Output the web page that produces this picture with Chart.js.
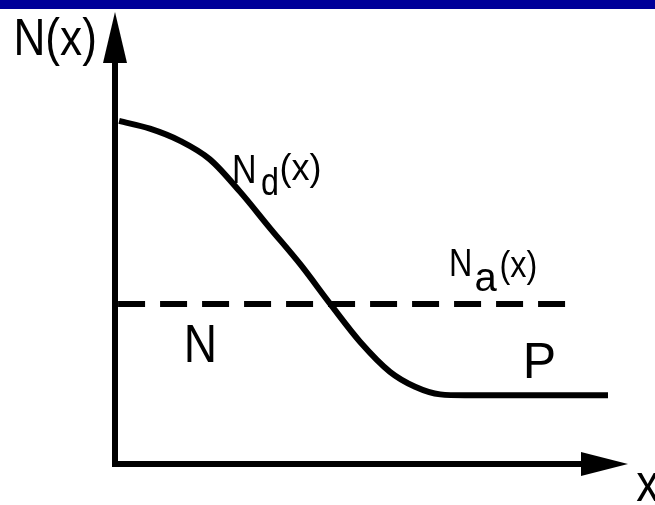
<!DOCTYPE html>
<html>
<head>
<meta charset="utf-8">
<script src="https://cdn.jsdelivr.net/npm/chart.js@4.4.1/dist/chart.umd.min.js"></script>
<style>
  html, body { margin: 0; padding: 0; background: #fff; }
  #wrap { position: relative; width: 655px; height: 505px; }
  #bar { position: absolute; left: 0; top: 0; width: 655px; height: 9px; background: #000099; }
</style>
</head>
<body>
<div id="wrap">
  <canvas id="c" width="655" height="505"></canvas>
  <div id="bar"></div>
</div>
<script>
// donor profile Nd(x)
const ndX = [0.8, 6.8, 12.7, 18.5, 24.4, 30.2, 36.1, 42.1, 47.8, 53.6, 58.5, 63.4, 68.2, 96.1];
const ndY = [75.9, 74.2, 71.5, 67.4, 60.2, 52.2, 44.2, 35.2, 27.0, 20.4, 17.1, 15.4, 15.2, 15.2];

// acceptor level Na(x), flat
const naX = [0.6, 88.1];
const naY = [35.4, 35.4];

const xMax = 100;
const yMax = 100;

// text labels, anchored in data units; parts are offset in px
const labels = [
  { x: -19.8, y: 90.5, parts: [{ t: "N(x)", size: 52, sx: 0.85, dx: 0, dy: 0 }] },
  { x: 13.4, y: 22.6, parts: [{ t: "N", size: 53, sx: 0.87, dx: 0, dy: 0 }] },
  { x: 79.5, y: 19.0, parts: [{ t: "P", size: 50, sx: 1, dx: 0, dy: 0 }] },
  { x: 101.6, y: -8.2, parts: [{ t: "x", size: 54, sx: 0.85, dx: 0, dy: 0 }] },
  { x: 22.8, y: 62.2, parts: [
    { t: "N", size: 40, sx: 0.85, dx: 0, dy: 0 },
    { t: "d", size: 38, sx: 0.85, dx: 29, dy: 12 },
    { t: "(x)", size: 36, sx: 1, dx: 47.5, dy: -3 }
  ] },
  { x: 65.1, y: 41.6, parts: [
    { t: "N", size: 38, sx: 0.85, dx: 0, dy: 0 },
    { t: "a", size: 40, sx: 1, dx: 25.5, dy: 15 },
    { t: "(x)", size: 36, sx: 0.9, dx: 50.5, dy: 1 }
  ] }
];

const axesPlugin = {
  id: "axes",
  afterDatasetsDraw(chart) {
    const { ctx, scales: { x, y } } = chart;
    const x0 = x.getPixelForValue(0);
    const y0 = y.getPixelForValue(0);
    const xEnd = x.getPixelForValue(xMax);
    const yEnd = y.getPixelForValue(yMax);
    ctx.save();
    ctx.strokeStyle = "#000";
    ctx.fillStyle = "#000";
    ctx.lineWidth = 6;
    ctx.beginPath();
    ctx.moveTo(x0, y0 + 3);
    ctx.lineTo(x0, yEnd + 40);
    ctx.moveTo(x0 - 3, y0);
    ctx.lineTo(xEnd - 40, y0);
    ctx.stroke();
    // arrow heads
    ctx.beginPath();
    ctx.moveTo(x0, yEnd);
    ctx.lineTo(x0 - 12, yEnd + 51);
    ctx.lineTo(x0 + 12, yEnd + 51);
    ctx.closePath();
    ctx.fill();
    ctx.beginPath();
    ctx.moveTo(xEnd, y0);
    ctx.lineTo(xEnd - 47, y0 - 12);
    ctx.lineTo(xEnd - 47, y0 + 12);
    ctx.closePath();
    ctx.fill();
    ctx.restore();
  },
  afterDraw(chart) {
    const { ctx, scales: { x, y } } = chart;
    ctx.save();
    ctx.fillStyle = "#000";
    ctx.textBaseline = "alphabetic";
    ctx.textAlign = "left";
    labels.forEach((l) => {
      const px = x.getPixelForValue(l.x);
      const py = y.getPixelForValue(l.y);
      l.parts.forEach((p) => {
        ctx.save();
        ctx.translate(px + p.dx, py + p.dy);
        ctx.scale(p.sx, 1);
        ctx.font = p.size + 'px "Liberation Sans", Arial, sans-serif';
        ctx.fillText(p.t, 0, 0);
        ctx.restore();
      });
    });
    ctx.restore();
  }
};

new Chart(document.getElementById("c").getContext("2d"), {
  type: "line",
  data: {
    datasets: [
      {
        label: "Nd(x)",
        data: ndX.map((v, i) => ({ x: v, y: ndY[i] })),
        borderColor: "#000",
        borderWidth: 6,
        borderCapStyle: "butt",
        pointRadius: 0,
        cubicInterpolationMode: "monotone",
        fill: false
      },
      {
        label: "Na(x)",
        data: naX.map((v, i) => ({ x: v, y: naY[i] })),
        borderColor: "#000",
        borderWidth: 6,
        borderDash: [27, 15],
        borderCapStyle: "butt",
        pointRadius: 0,
        fill: false
      }
    ]
  },
  options: {
    responsive: false,
    animation: false,
    devicePixelRatio: 1,
    layout: { padding: { left: 115, right: 27, top: 12, bottom: 41 } },
    scales: {
      x: { type: "linear", min: 0, max: xMax, display: false },
      y: { type: "linear", min: 0, max: yMax, display: false }
    },
    plugins: {
      legend: { display: false },
      tooltip: { enabled: false }
    }
  },
  plugins: [axesPlugin]
});
</script>
</body>
</html>
